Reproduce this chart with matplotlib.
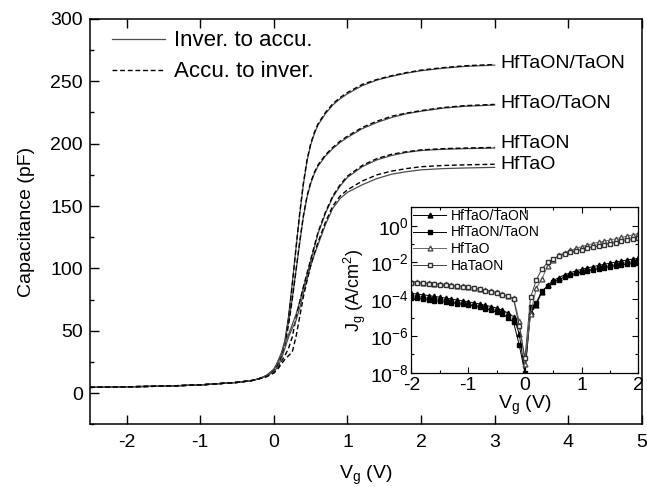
import numpy as np
import matplotlib
matplotlib.use('Agg')
import matplotlib.pyplot as plt
from matplotlib.ticker import MultipleLocator, FixedLocator, NullFormatter

plt.rcParams['font.family'] = ['Liberation Sans', 'DejaVu Sans']
plt.rcParams['mathtext.default'] = 'regular'
plt.rcParams['axes.unicode_minus'] = False

# --------------------------------- C-V data (main plot) ---------------------------------
vg_cv = [-2.5, -2.0, -1.5, -1.0, -0.5, -0.3, -0.2, -0.1, 0.0, 0.05, 0.1, 0.15, 0.2, 0.25,
         0.3, 0.35, 0.4, 0.45, 0.5, 0.55, 0.6, 0.7, 0.8, 0.9, 1.0, 1.2, 1.4, 1.6, 1.8,
         2.0, 2.3, 2.6, 3.0]

# Inver. to accu. (solid)
c_hftaon_taon_inv = [4.5, 5, 5.5, 6.5, 8.5, 10, 11.5, 14, 19, 24, 31, 42, 62, 88, 116, 143, 167,
                     186, 199, 208, 215, 224, 231, 236, 240, 246.5, 251, 254, 256.5, 258.5, 260.5, 262, 263]
c_hftao_taon_inv = [4.5, 5, 5.5, 6.5, 8.5, 10, 11.5, 14, 19, 24, 31, 42, 57, 76, 98, 120, 141,
                    157, 168, 176, 182, 190, 196, 201, 205, 212, 217, 221, 224, 226, 228.5, 230, 231]
c_hftaon_inv = [4.5, 5, 5.5, 6.5, 8.5, 10, 11.5, 14, 19, 25, 32, 40, 47, 55, 63, 73, 84,
                95, 106, 117, 128, 144, 157, 166, 173, 181.5, 187, 190.5, 193, 194.5, 195.5, 196, 196.5]
c_hftao_inv = [4.5, 5, 5.5, 6.5, 8.5, 10, 11.5, 13.5, 17, 21, 27, 36, 45, 52, 58, 68, 80,
               91, 102, 111, 119, 135, 148, 156, 161, 167, 172, 175.5, 177.5, 179, 180, 180.5, 181]

# Accu. to inver. (dashed)
c_hftaon_taon_acc = [4.5, 5, 5.5, 6.5, 8.5, 10, 11.5, 13.5, 18, 22, 29, 40, 60, 87, 116, 144, 168,
                     187, 200, 209, 216, 225, 232, 237, 241, 247.5, 251.5, 254.5, 257, 259, 261, 262.5, 263.5]
c_hftao_taon_acc = [4.5, 5, 5.5, 6.5, 8.5, 10, 11.5, 13.5, 18, 22, 28, 38, 55, 75, 98, 121, 142,
                    158, 169, 177, 183, 191, 197, 202, 206, 213, 218, 222, 224.5, 226.5, 229, 230.5, 231.5]
c_hftaon_acc = [4.5, 5, 5.5, 6.5, 8.5, 10, 11.5, 13.5, 17, 20, 25, 30, 36, 45, 60, 73, 85,
                96, 107, 118, 129, 145, 158, 167, 174, 182.5, 188, 191.5, 193.5, 195, 196, 196.5, 197]
c_hftao_acc = [4.5, 5, 5.5, 6.5, 8.5, 10, 11.5, 13, 16, 19, 23, 27, 30, 33, 45, 61, 77,
               90, 102, 112, 121, 137, 150, 158, 163, 170, 175, 178, 180, 181.5, 182.5, 183, 183.5]

labels_cv = ['HfTaON/TaON', 'HfTaO/TaON', 'HfTaON', 'HfTaO']
label_y = [264.5, 232, 200, 183]

# --------------------------------- J-V data (inset) ---------------------------------
vg_j = np.linspace(-2, 2, 41)
logj_hftao_taon = [-3.68, -3.72, -3.76, -3.80, -3.85, -3.89, -3.94, -3.99, -4.04, -4.09, -4.14,
                   -4.20, -4.26, -4.33, -4.40, -4.48, -4.60, -4.75, -4.95, -5.90, -8.0,
                   -4.70, -4.30, -3.60, -3.25, -2.98, -2.82, -2.68, -2.56, -2.46, -2.37,
                   -2.30, -2.23, -2.16, -2.10, -2.04, -1.98, -1.92, -1.87, -1.82, -1.78]
logj_hftaon_taon = [-3.92, -3.96, -4.00, -4.04, -4.08, -4.12, -4.16, -4.20, -4.24, -4.28, -4.32,
                    -4.38, -4.44, -4.51, -4.60, -4.70, -4.82, -5.00, -5.25, -6.50, -8.0,
                    -4.45, -4.20, -3.55, -3.30, -3.08, -2.93, -2.80, -2.69, -2.60, -2.52,
                    -2.45, -2.39, -2.33, -2.28, -2.23, -2.18, -2.14, -2.10, -2.06, -2.02]
logj_hftao = [-3.05, -3.07, -3.10, -3.12, -3.15, -3.17, -3.20, -3.23, -3.26, -3.29, -3.32,
              -3.37, -3.43, -3.49, -3.56, -3.63, -3.72, -3.82, -3.95, -5.20, -7.5,
              -4.80, -3.40, -2.90, -2.20, -1.85, -1.62, -1.47, -1.35, -1.24, -1.14,
              -1.05, -0.97, -0.90, -0.84, -0.78, -0.71, -0.64, -0.57, -0.50, -0.43]
logj_hataon = [-3.10, -3.12, -3.14, -3.17, -3.20, -3.22, -3.25, -3.28, -3.30, -3.33, -3.36,
               -3.41, -3.47, -3.53, -3.60, -3.67, -3.75, -3.85, -4.00, -5.45, -7.2,
               -3.90, -2.96, -2.36, -2.00, -1.80, -1.65, -1.54, -1.45, -1.37, -1.30,
               -1.23, -1.17, -1.10, -1.04, -0.98, -0.92, -0.86, -0.80, -0.75, -0.69]

# --------------------------------- main plot ---------------------------------
fig = plt.figure(figsize=(6.47, 4.87), dpi=100)
ax = fig.add_axes([0.139, 0.129, 0.853, 0.832])

inv_curves = [c_hftaon_taon_inv, c_hftao_taon_inv, c_hftaon_inv, c_hftao_inv]
acc_curves = [c_hftaon_taon_acc, c_hftao_taon_acc, c_hftaon_acc, c_hftao_acc]
for i in range(4):
    ax.plot(vg_cv, inv_curves[i], color='0.3', lw=0.9,
            label='Inver. to accu.' if i == 0 else None)
    ax.plot(vg_cv, acc_curves[i], color='black', lw=1.0, ls=(0, (3.5, 2)),
            label='Accu. to inver.' if i == 0 else None)
    ax.text(3.08, label_y[i], labels_cv[i], va='center', ha='left', fontsize=14)

ax.set_xlim(-2.5, 5)
ax.set_ylim(-25, 300)
ax.xaxis.set_major_locator(MultipleLocator(1))
ax.yaxis.set_major_locator(MultipleLocator(50))
ax.yaxis.set_minor_locator(MultipleLocator(25))
ax.tick_params(axis='both', which='major', direction='in', length=6.5, width=1.0,
               labelsize=14, top=True, right=False)
ax.tick_params(axis='y', which='minor', direction='in', length=3.2, width=1.0)
ax.tick_params(axis='x', which='major', pad=7)
ax.tick_params(axis='y', which='major', pad=5)
for s in ax.spines.values():
    s.set_linewidth(1.1)
ax.set_xlabel('V$_g$ (V)', fontsize=14, labelpad=9)
ax.set_ylabel('Capacitance (pF)', fontsize=14, labelpad=11)

ax.legend(loc='upper left', bbox_to_anchor=(0.04, 0.972), frameon=False, fontsize=16,
          handlelength=2.4, handletextpad=0.4, labelspacing=0.45, borderpad=0, borderaxespad=0)

# --------------------------------- inset ---------------------------------
axin = fig.add_axes([0.636, 0.2347, 0.3506, 0.3396])
axin.plot(vg_j, 10 ** np.array(logj_hftao_taon), color='black', lw=0.7, marker='^',
          ms=3.5, label='HfTaO/TaON')
axin.plot(vg_j, 10 ** np.array(logj_hftaon_taon), color='black', lw=0.7, marker='s',
          ms=3, label='HfTaON/TaON')
axin.plot(vg_j, 10 ** np.array(logj_hftao), color='0.4', lw=0.7, marker='^', ms=3.5,
          mfc='white', mec='0.3', label='HfTaO')
axin.plot(vg_j, 10 ** np.array(logj_hataon), color='0.25', lw=0.7, marker='s', ms=3,
          mfc='white', mec='0.2', label='HaTaON')
axin.set_yscale('log')
axin.set_xlim(-2, 2)
axin.set_ylim(1e-8, 1e1)
axin.xaxis.set_major_locator(MultipleLocator(1))
axin.xaxis.set_minor_locator(MultipleLocator(0.5))
axin.yaxis.set_major_locator(FixedLocator([1e-8, 1e-6, 1e-4, 1e-2, 1e0]))
axin.yaxis.set_minor_locator(FixedLocator([1e-7, 1e-5, 1e-3, 1e-1, 1e1]))
axin.yaxis.set_minor_formatter(NullFormatter())
axin.tick_params(axis='both', which='both', direction='in', top=True, right=True,
                 labelsize=14, width=0.8)
axin.tick_params(axis='both', which='major', length=4)
axin.tick_params(axis='x', which='major', pad=3)
axin.tick_params(axis='y', which='major', pad=2)
axin.tick_params(axis='both', which='minor', length=2.5)
for s in axin.spines.values():
    s.set_linewidth(0.9)
axin.set_xlabel('V$_g$ (V)', fontsize=14, labelpad=0)
axin.set_ylabel('J$_g$ (A/cm$^2$)', fontsize=13, labelpad=1)
axin.legend(loc='upper left', bbox_to_anchor=(0.0, 1.0), frameon=False, fontsize=10,
            handlelength=2.4, handletextpad=0.3, labelspacing=0.2, borderpad=0.1,
            borderaxespad=0, numpoints=1)

plt.savefig('out.png', dpi=100)
